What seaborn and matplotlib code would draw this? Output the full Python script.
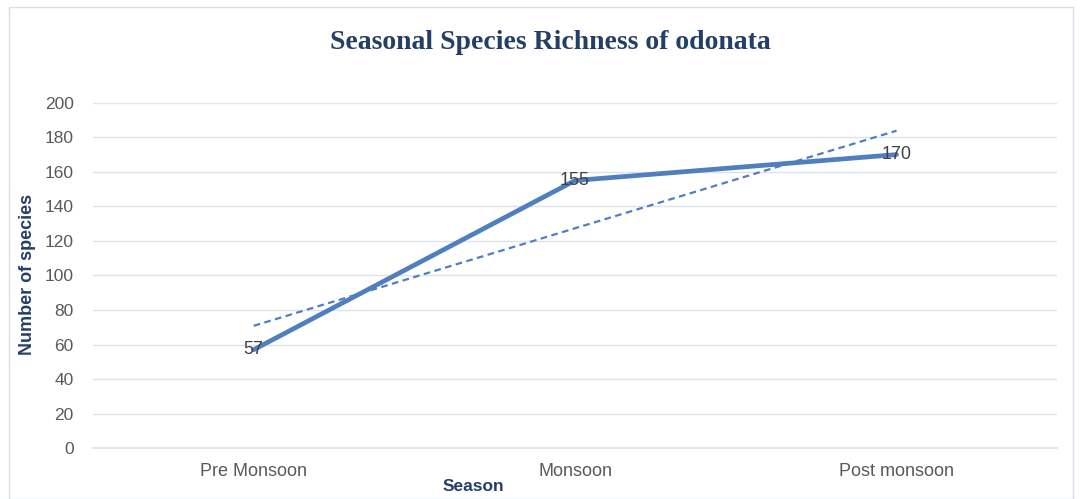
'''seasonal species richness line chart'''
import numpy as np
import pandas as pd
import seaborn as sns
import matplotlib.pyplot as plt
from matplotlib.patches import Rectangle

seasons = ['Pre Monsoon', 'Monsoon', 'Post monsoon']
species = [57, 155, 170]
y_ticks = list(range(0, 201, 20))

LINE = '#4F7FBF'
NAVY = '#243F66'
TICK = '#595959'
GRID = '#DDE3EA'

df = pd.DataFrame({'pos': np.arange(len(seasons)), 'season': seasons, 'species': species})

sns.set_theme(style='white')
plt.rcParams['font.family'] = ['Liberation Sans', 'DejaVu Sans']

fig = plt.figure(figsize=(10.81, 4.99), dpi=100)
ax = fig.add_axes([0.086, 0.102, 0.892, 0.692])

sns.lineplot(data=df, x='pos', y='species', color=LINE, linewidth=3.4, ax=ax,
             solid_capstyle='round')
sns.regplot(data=df, x='pos', y='species', scatter=False, ci=None, truncate=True,
            color=LINE, line_kws={'linestyle': (0, (3, 2)), 'linewidth': 1.6}, ax=ax)

for _, r in df.iterrows():
    ax.text(r['pos'], r['species'], str(r['species']), ha='center', va='center',
            fontsize=13, color='#404040')

ax.set_xlim(-0.5, len(seasons) - 0.5)
ax.set_ylim(0, 200)
ax.set_yticks(y_ticks)
ax.set_xticks(df['pos'])
ax.set_xticklabels(seasons)
ax.tick_params(axis='y', length=0, labelsize=12.5, labelcolor=TICK, pad=14)
ax.tick_params(axis='x', length=0, labelsize=13, labelcolor=TICK, pad=11)
ax.set_xticks([-0.5, 0.5, 1.5, 2.5], minor=True)
ax.tick_params(axis='x', which='minor', length=5, color=GRID, width=1)
ax.grid(axis='y', color=GRID, linewidth=1)
ax.set_axisbelow(True)
for s in ['top', 'right', 'left']:
    ax.spines[s].set_visible(False)
ax.spines['bottom'].set_color(GRID)
ax.set_xlabel('')
ax.set_ylabel('')

fig.text(0.509, 0.915, 'Seasonal Species Richness of odonata', ha='center', va='center',
         fontsize=20, fontweight='bold', color=NAVY, family=['Liberation Serif', 'DejaVu Serif'])
fig.text(0.025, 0.45, 'Number of species', rotation=90, ha='center', va='center',
         fontsize=13, fontweight='bold', color=NAVY)
fig.text(0.438, 0.025, 'Season', ha='center', va='center',
         fontsize=12.5, fontweight='bold', color=NAVY)

fig.patches.append(Rectangle((0.008, 0.0), 0.985, 0.985, transform=fig.transFigure,
                             fill=False, edgecolor='#D5DFEA', linewidth=1))

fig.savefig('out.png', dpi=100)
